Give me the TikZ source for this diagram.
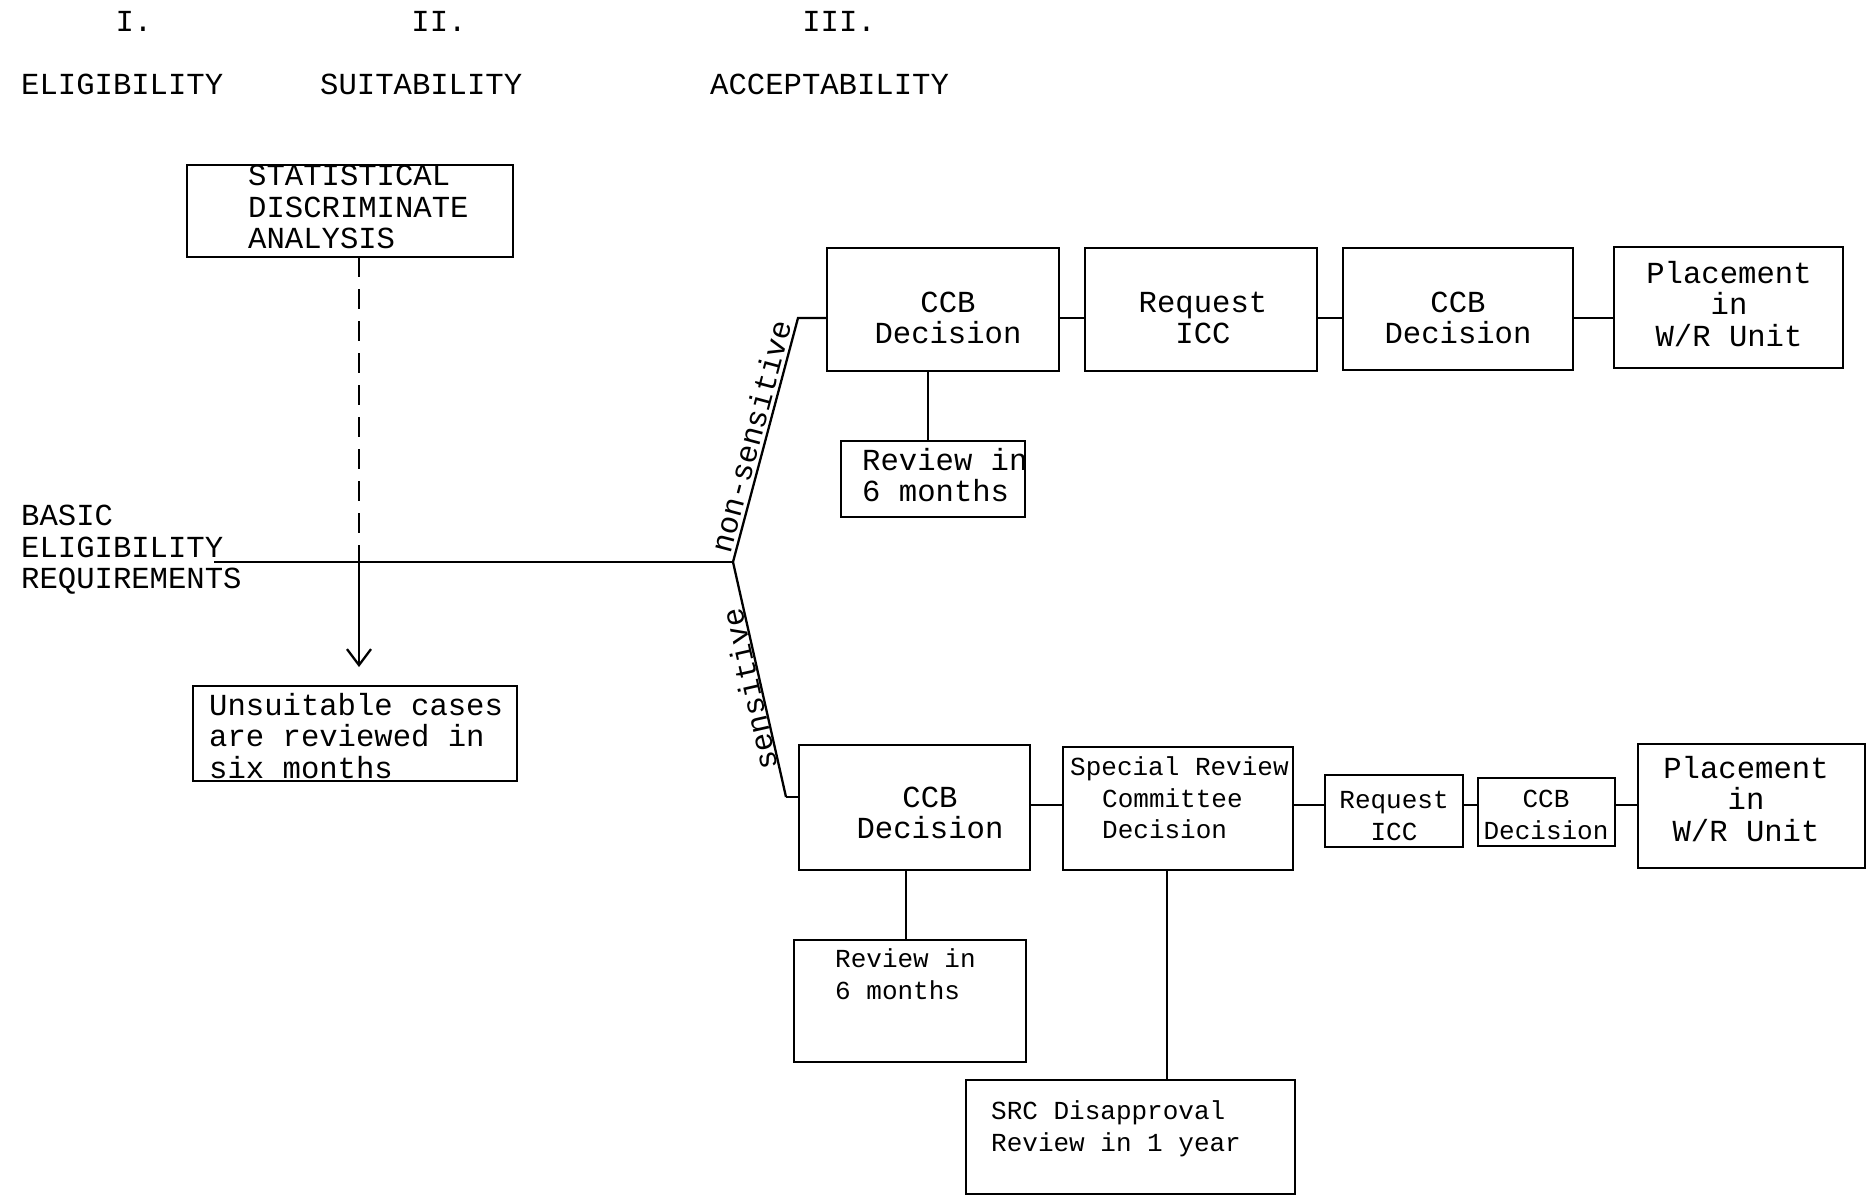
\documentclass[tikz,border=0pt]{standalone}
\usepackage{fontspec}
\setmonofont{Liberation Mono}
\usetikzlibrary{arrows.meta}
\begin{document}
\begin{tikzpicture}[x=1pt,y=-1pt,
  box/.style={draw, line width=2.6pt, inner sep=0pt, outer sep=0pt, anchor=north west},
  conn/.style={line width=2.3pt},
  big/.style={font=\ttfamily\fontsize{30.6}{31.5}\selectfont, inner sep=0pt},
  small/.style={font=\ttfamily\fontsize{26}{31.5}\selectfont, inner sep=0pt},
  lbl/.style={font=\ttfamily\fontsize{30.6}{31.5}\selectfont, inner sep=3pt, sloped, above},
]
\useasboundingbox[fill=white] (0,0) rectangle (1872,1200);

% headers
\node[big] (h1) at (134,21) {I.};
\node[big] (h2) at (439,21) {II.};
\node[big] (h3) at (839,21) {III.};
\node[big, anchor=west] (e1) at (21,84) {ELIGIBILITY};
\node[big, anchor=west] (s1) at (320,84) {SUITABILITY};
\node[big, anchor=west] (a1) at (710,84) {ACCEPTABILITY};

% suitability
\node[box, minimum width=326pt, minimum height=92pt] (stat) at (187,165) {};
\node[big, align=left, anchor=west] (statt) at (248,207) {STATISTICAL\\DISCRIMINATE\\ANALYSIS};
\node[box, minimum width=324pt, minimum height=95pt] (uns) at (193,686) {};
\node[big, align=left, anchor=west] (unst) at (209,736) {Unsuitable cases\\are reviewed in\\six months};

\node[big, align=left, anchor=west] (basic) at (21,550) {BASIC\\ELIGIBILITY\\REQUIREMENTS};

\coordinate (bl) at (214,562);
\coordinate (br) at (733,562);
\coordinate (ax) at (359,667);
\draw[conn] (bl) -- (br);
\draw[conn, dash pattern=on 20pt off 12pt] (stat.south -| ax) -- (br -| ax);
\draw[conn, -{Straight Barb[length=16pt,width=24pt,line width=2.3pt]}] (br -| ax) -- (ax);

% acceptability top row
\node[box, minimum width=232pt, minimum height=123pt] (ccbA) at (827,248) {};
\node[big, align=center] (ccbAt) at (948,318) {CCB\\Decision};
\node[box, minimum width=232pt, minimum height=123pt] (reqA) at (1085,248) {};
\node[big, align=center] (reqAt) at (1203,318) {Request\\ICC};
\node[box, minimum width=230pt, minimum height=122pt] (ccbA2) at (1343,248) {};
\node[big, align=center] (ccbA2t) at (1458,318) {CCB\\Decision};
\node[box, minimum width=229pt, minimum height=121pt] (plA) at (1614,247) {};
\node[big, align=center] (plAt) at (1729,304) {Placement\\in\\W/R Unit};
\node[box, minimum width=184pt, minimum height=76pt] (revA) at (841,441) {};
\node[big, align=left, anchor=west] (revAt) at (862,475) {Review in\\6 months};

\coordinate (ns) at (798,318);
\coordinate (ra) at (928,441);
\draw[conn] (br) -- node[lbl] {non-sensitive} (ns) -- (ns -| ccbA.west);
\draw[conn] (ccbA.east |- ns) -- (reqA.west |- ns);
\draw[conn] (reqA.east |- ns) -- (ccbA2.west |- ns);
\draw[conn] (ccbA2.east |- ns) -- (plA.west |- ns);
\draw[conn] (ccbA.south -| ra) -- (revA.north -| ra);

% acceptability bottom row
\node[box, minimum width=231pt, minimum height=125pt] (ccbB) at (799,745) {};
\node[big, align=center] (ccbBt) at (930,813) {CCB\\Decision};
\node[box, minimum width=230pt, minimum height=123pt] (src) at (1063,747) {};
\node[small, align=left, anchor=west] (srct) at (1070,798) {Special Review\\\hspace*{32pt}Committee\\\hspace*{32pt}Decision};
\node[box, minimum width=138pt, minimum height=72pt] (reqB) at (1325,775) {};
\node[small, align=center] (reqBt) at (1394,816) {Request\\ICC};
\node[box, minimum width=137pt, minimum height=68pt] (ccbC) at (1478,778) {};
\node[small, align=center] (ccbCt) at (1546,815) {CCB\\Decision};
\node[box, minimum width=227pt, minimum height=124pt] (plB) at (1638,744) {};
\node[big, align=center] (plBt) at (1746,799) {Placement\\in\\W/R Unit};
\node[box, minimum width=232pt, minimum height=122pt] (revB) at (794,940) {};
\node[small, align=left, anchor=west] (revBt) at (835,974) {Review in\\6 months};
\node[box, minimum width=329pt, minimum height=114pt] (srcD) at (966,1080) {};
\node[small, align=left, anchor=west] (srcDt) at (991,1129) {SRC Disapproval\\Review in 1 year};

\coordinate (ss) at (786,797);
\coordinate (ly) at (1050,805);
\coordinate (rb) at (906,940);
\coordinate (sd) at (1167,1080);
\draw[conn] (ss) -- node[lbl, allow upside down, inner sep=0pt, pos=0.47] {sensitive} (br);
\draw[conn] (ss) -- (ss -| ccbB.west);
\draw[conn] (ccbB.east |- ly) -- (src.west |- ly);
\draw[conn] (src.east |- ly) -- (reqB.west |- ly);
\draw[conn] (reqB.east |- ly) -- (ccbC.west |- ly);
\draw[conn] (ccbC.east |- ly) -- (plB.west |- ly);
\draw[conn] (ccbB.south -| rb) -- (revB.north -| rb);
\draw[conn] (src.south -| sd) -- (srcD.north -| sd);
\end{tikzpicture}
\end{document}
